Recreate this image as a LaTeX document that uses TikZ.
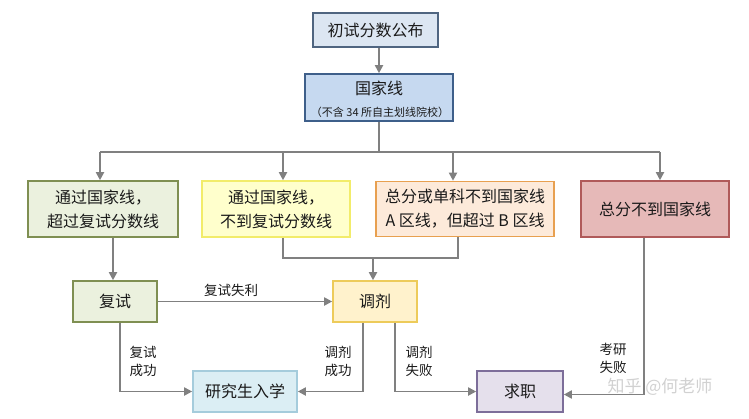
\documentclass[tikz,border=0pt]{standalone}
\usepackage{fontspec}
\setmainfont{Noto Sans CJK SC}
\usetikzlibrary{arrows.meta}
\definecolor{linegray}{HTML}{808080}
\definecolor{txt}{HTML}{1A1A1A}
\definecolor{initF}{HTML}{DCE6F2}\definecolor{initD}{HTML}{4F6580}
\definecolor{gjxF}{HTML}{C6D9F0}\definecolor{gjxD}{HTML}{3E5F8A}
\definecolor{grnF}{HTML}{EBF1DE}\definecolor{grnD}{HTML}{7F8F52}
\definecolor{yelF}{HTML}{FFFFCC}\definecolor{yelD}{HTML}{F2EC6A}
\definecolor{orgF}{HTML}{FDEADA}\definecolor{orgD}{HTML}{E8A050}
\definecolor{redF}{HTML}{E6B9B8}\definecolor{redD}{HTML}{B05A5A}
\definecolor{tjF}{HTML}{FFF2CC}\definecolor{tjD}{HTML}{EDCB5A}
\definecolor{cyaF}{HTML}{DBEEF4}\definecolor{cyaD}{HTML}{A5CCDC}
\definecolor{purF}{HTML}{E5E0EC}\definecolor{purD}{HTML}{7D6E9A}
\tikzset{
  box/.style={draw, line width=1.6pt, inner sep=0pt, align=center, text=txt,
    font=\fontsize{16}{24}\selectfont},
  conn/.style={draw=linegray, line width=1.8pt},
  arr/.style={conn, -{Triangle[length=8pt,width=8pt]}},
  lbl/.style={font=\fontsize{13.5}{18}\selectfont, text=txt, align=center, inner sep=0pt}
}
\begin{document}
\begin{tikzpicture}[x=1pt,y=-1pt]
\useasboundingbox[fill=white] (0,0) rectangle (749,418);
% nodes
\node[box, fill=initF, draw=initD, minimum width=125pt, minimum height=34pt] (init) at (375.5,30) {初试分数公布};
\node[box, fill=gjxF, draw=gjxD, minimum width=148pt, minimum height=47pt] (gjx) at (379,97.5) {};
\node[text=txt, font=\fontsize{16}{20}\selectfont, inner sep=0pt] (gjxt) at (379,88.5) {国家线};
\node[text=txt, font=\fontsize{11}{13}\selectfont, inner sep=0pt] (gjxs) at (380,112) {（不含 34 所自主划线院校）};
\node[box, fill=grnF, draw=grnD, minimum width=150pt, minimum height=56pt] (A) at (103,209) {通过国家线，\\超过复试分数线};
\node[box, fill=yelF, draw=yelD, minimum width=148pt, minimum height=56pt] (B) at (276,209) {通过国家线，\\不到复试分数线};
\node[box, fill=orgF, draw=orgD, minimum width=178pt, minimum height=55pt] (C) at (465,209) {总分或单科不到国家线\\A 区线，但超过 B 区线};
\node[box, fill=redF, draw=redD, minimum width=148pt, minimum height=56pt] (D) at (655,209) {总分不到国家线};
\node[box, fill=grnF, draw=grnD, minimum width=84pt, minimum height=41pt] (fs) at (115,301.5) {复试};
\node[box, fill=tjF, draw=tjD, minimum width=84pt, minimum height=41pt] (tj) at (375,301.5) {调剂};
\node[box, fill=cyaF, draw=cyaD, minimum width=104pt, minimum height=41pt] (yjs) at (245,391.5) {研究生入学};
\node[box, fill=purF, draw=purD, minimum width=86pt, minimum height=41pt] (qz) at (520,391.5) {求职};
% coordinates
\coordinate (br) at (379,152);
\coordinate (brA) at (100,152);
\coordinate (brB) at (283,152);
\coordinate (brC) at (453,152);
\coordinate (brD) at (660,152);
\coordinate (aX) at (113,0);
\coordinate (bX) at (283,0);
\coordinate (cX) at (458,0);
\coordinate (jY) at (0,258);
\coordinate (tX) at (373,0);
\coordinate (fsX) at (120,0);
\coordinate (tjL) at (363,0);
\coordinate (tjR) at (395,0);
\coordinate (dX) at (644,0);
% connectors
\draw[arr] (init.south -| gjx) -- (gjx.north);
\draw[conn] (gjx.south) -- (br);
\draw[conn] (brA) -- (brD);
\draw[arr] (brA) -- (A.north -| brA);
\draw[arr] (brB) -- (B.north -| brB);
\draw[arr] (brC) -- (C.north -| brC);
\draw[arr] (brD) -- (D.north -| brD);
\draw[arr] (A.south -| aX) -- (fs.north -| aX);
\draw[conn] (B.south -| bX) |- (jY -| cX) -- (C.south -| cX);
\draw[arr] (jY -| tX) -- (tj.north -| tX);
\draw[arr] (fs.east) -- (tj.west);
\draw[arr] (fs.south -| fsX) |- (yjs.west);
\draw[arr] (tj.south -| tjL) |- (yjs.east);
\draw[arr] (tj.south -| tjR) |- (qz.west);
\draw[arr] (D.south -| dX) |- ([yshift=-3pt]qz.east);
% labels
\node[lbl] (l1) at (231,290) {复试失利};
\node[lbl] (l2) at (143,361) {复试\\成功};
\node[lbl] (l3) at (338,361) {调剂\\成功};
\node[lbl] (l4) at (419,361) {调剂\\失败};
\node[lbl] (l5) at (613,358) {考研\\失败};
% watermark
\node[font=\fontsize{17}{20}\selectfont, text=gray!45, opacity=0.8, inner sep=0pt] (wm) at (660,387) {知乎 @何老师};
\end{tikzpicture}
\end{document}
